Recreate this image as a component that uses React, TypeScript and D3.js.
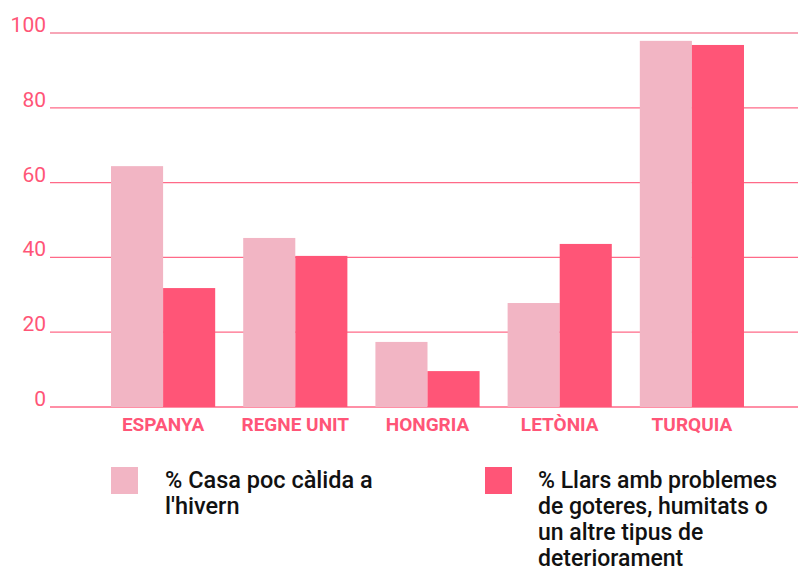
import React from "react";
import * as d3 from "d3";

const categories = ["ESPANYA", "REGNE UNIT", "HONGRIA", "LETÒNIA", "TURQUIA"];
const coldHome = [64.4, 45.2, 17.4, 27.8, 97.9];
const leaks = [31.8, 40.4, 9.6, 43.6, 96.8];
const yTicks = [0, 20, 40, 60, 80, 100];
const legend1 = ["% Casa poc càlida a", "l'hivern"];
const legend2 = ["% Llars amb problemes", "de goteres, humitats o", "un altre tipus de", "deteriorament"];

const LIGHT = "#F2B5C4";
const DARK = "#FF5577";
const GRID = "#FF6A88";

export default function App() {
  const W = 798, H = 572;
  const y = d3.scaleLinear().domain([0, 100]).range([407, 33]);
  const x = d3.scaleBand<string>().domain(categories).range([97, 758]).paddingInner(0.212).paddingOuter(0.106);
  const sub = d3.scaleBand<string>().domain(["a", "b"]).range([0, x.bandwidth()]);
  return (
    <svg width={W} height={H} style={{ position: "absolute", left: 0, top: 0, fontFamily: "Roboto" }}>
      {yTicks.map(t => (
        <g key={t}>
          <line x1={50} x2={798} y1={y(t)} y2={y(t)} stroke={t === 100 ? "#F5899F" : GRID} strokeWidth={1.3} />
          <text x={46} y={y(t) - 1} textAnchor="end" fontSize={21} fill={DARK}>{t}</text>
        </g>
      ))}
      {categories.map((c, i) => (
        <g key={c} transform={`translate(${x(c)},0)`}>
          <rect x={sub("a")} y={y(coldHome[i])} width={sub.bandwidth()} height={y(0) - y(coldHome[i])} fill={LIGHT} />
          <rect x={sub("b")} y={y(leaks[i])} width={sub.bandwidth()} height={y(0) - y(leaks[i])} fill={DARK} />
          <text x={x.bandwidth() / 2} y={431} textAnchor="middle" fontSize={19} fontWeight={700} fill={DARK}>{c}</text>
        </g>
      ))}
      <rect x={111} y={467} width={27} height={27} fill={LIGHT} />
      {legend1.map((l, i) => (
        <text key={l} x={165} y={488 + i * 26} fontSize={23.5} fontWeight={500} fill="#111">{l}</text>
      ))}
      <rect x={485} y={467} width={27} height={27} fill={DARK} />
      {legend2.map((l, i) => (
        <text key={l} x={538} y={488 + i * 26} fontSize={23} fontWeight={500} fill="#111">{l}</text>
      ))}
    </svg>
  );
}
